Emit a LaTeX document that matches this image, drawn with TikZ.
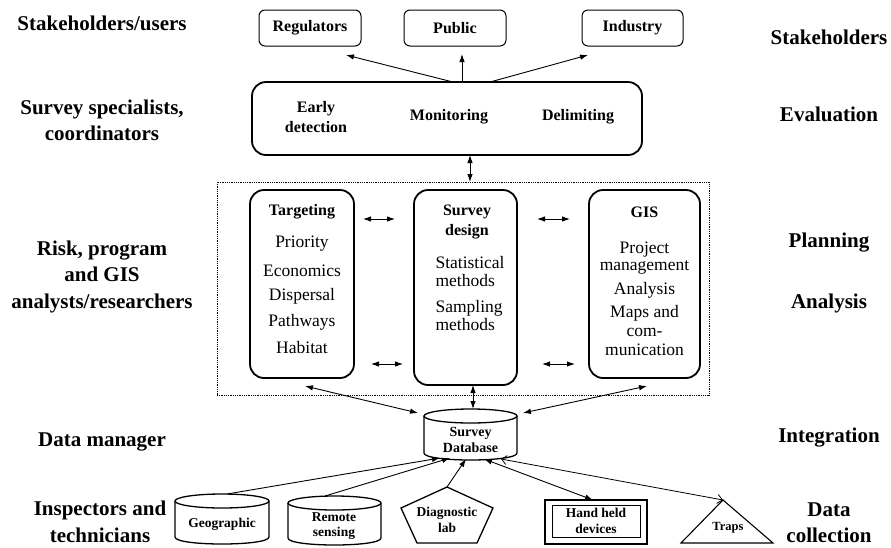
\documentclass[tikz,border=0pt]{standalone}
\usepackage{fontspec}
\setmainfont{Liberation Serif}
\usetikzlibrary{arrows.meta}
\newcommand{\cylshape}[4]{%
  \draw[shp] (#1,#3+7) -- (#1,#4-7) .. controls (#1,#4+2.33) and (#2,#4+2.33) .. (#2,#4-7) -- (#2,#3+7);
  \draw[shp] ({(#1+#2)/2},{#3+7}) ellipse [x radius={(#2-#1)/2}, y radius=7];}
\begin{document}
\begin{tikzpicture}[x=1pt,y=-1pt,
 lbl/.style={font=\fontsize{21}{26.5}\selectfont\bfseries, align=center},
 boxlbl/.style={font=\fontsize{16}{19.5}\selectfont\bfseries, align=center},
 itm/.style={font=\fontsize{17.5}{18}\selectfont, align=center},
 smalltxt/.style={font=\fontsize{13.5}{15.5}\selectfont\bfseries, align=center},
 topbox/.style={draw, line width=1pt, rounded corners=6pt, inner sep=0pt},
 bigbox/.style={draw, line width=1.8pt, rounded corners=14pt, inner sep=0pt},
 arr/.style={line width=0.9pt, -{Latex[length=8pt,width=5.5pt]}},
 darr/.style={line width=0.9pt, {Latex[length=8pt,width=5.5pt]}-{Latex[length=8pt,width=5.5pt]}},
 oarr/.style={line width=0.8pt, {Straight Barb[length=5pt,width=9pt]}-{Straight Barb[length=5pt,width=9pt]}},
 shp/.style={draw, line width=1.3pt}
]
\useasboundingbox[fill=white] (0,0) rectangle (891,547);

% side labels
\node[lbl] (l1) at (102,23) {Stakeholders/users};
\node[lbl] (l2) at (102,120.5) {Survey specialists,\\coordinators};
\node[lbl] (l3) at (102,276.5) {Risk, program\\and GIS\\analysts/researchers};
\node[lbl] (l4) at (102,442) {Data manager};
\node[lbl] (l5) at (100,522) {Inspectors and\\technicians};

\node[lbl] (r1) at (829,37) {Stakeholders};
\node[lbl] (r2) at (829,114) {Evaluation};
\node[lbl] (r3) at (829,243) {Planning};
\node[lbl] (r4) at (829,303) {Analysis};
\node[lbl] (r5) at (829,438) {Integration};
\node[lbl] (r6) at (829,522.5) {Data\\collection};

% stakeholders
\node[topbox, boxlbl, minimum width=102pt, minimum height=36pt] (reg) at (310,28) {Regulators};
\node[topbox, boxlbl, minimum width=102pt, minimum height=36pt] (pub) at (455,28) {Public};
\node[topbox, boxlbl, minimum width=101pt, minimum height=36pt] (ind) at (632.5,28) {Industry};

% evaluation
\node[bigbox, minimum width=390pt, minimum height=73pt] (eval) at (447,118.5) {};
\node[boxlbl] (early) at (316,117) {Early\\detection};
\node[boxlbl] (moni) at (449,117) {Monitoring};
\node[boxlbl] (deli) at (578,117) {Delimiting};

% planning area
\node[draw, densely dotted, line width=0.8pt, minimum width=492pt, minimum height=213pt, inner sep=0pt] (plan) at (463,288.5) {};
\node[bigbox, minimum width=104pt, minimum height=188pt] (targ) at (302,284) {};
\node[bigbox, minimum width=103pt, minimum height=195pt] (sdes) at (465.5,287.5) {};
\node[bigbox, minimum width=111pt, minimum height=188pt] (gis) at (644.5,284) {};

\node[boxlbl] (targT) at (302,212) {Targeting};
\node[itm] (t1) at (302,244) {Priority};
\node[itm] (t2) at (302,271) {Economics};
\node[itm] (t3) at (302,296) {Dispersal};
\node[itm] (t4) at (302,322) {Pathways};
\node[itm] (t5) at (302,348) {Habitat};

\node[boxlbl] (sdesT) at (467,222) {Survey\\design};
\node[itm, align=left, anchor=west] (s1) at (432,272) {Statistical\\methods};
\node[itm, align=left, anchor=west] (s2) at (432,315.5) {Sampling\\methods};

\node[boxlbl] (gisT) at (644.5,212) {GIS};
\node[itm, font=\fontsize{17.5}{17}\selectfont] (g1) at (644.5,258) {Project\\management};
\node[itm] (g2) at (644.5,290) {Analysis};
\node[itm, font=\fontsize{17.5}{19}\selectfont] (g3) at (644.5,330.5) {Maps and\\com-\\munication};

% database
\cylshape{424}{517}{409}{460}
\node[smalltxt, font=\fontsize{14}{15.5}\selectfont\bfseries] (db) at (470.5,440) {Survey\\Database};

% data collection
\cylshape{175}{269}{494}{544}
\node[smalltxt] (geo) at (222,524) {Geographic};
\cylshape{288}{381}{496}{545}
\node[smalltxt] (rem) at (334,526) {Remote\\sensing};
\draw[shp] (447,487) -- (493,508) -- (477,543) -- (417,543) -- (401,508) -- cycle;
\node[smalltxt] (diag) at (447,520) {Diagnostic\\lab};
\draw[shp] (545,500) rectangle (647,544);
\draw[line width=1pt] (552,505) rectangle (640,537);
\node[smalltxt] (hh) at (596,521) {Hand held\\devices};
\draw[line width=1.1pt] (723,500) -- (773,543) -- (681,543) -- cycle;
\node[smalltxt, font=\fontsize{12.5}{14}\selectfont\bfseries] (traps) at (728,528) {Traps};

% coordinates
\coordinate (eR) at (453,82); \coordinate (tR) at (346,55);
\coordinate (eP) at (462,82); \coordinate (tP) at (462,54);
\coordinate (eI) at (490,82); \coordinate (tI) at (588,55);
\coordinate (eB) at (470,155); \coordinate (pT) at (470,182);
\coordinate (a1) at (363,219); \coordinate (a2) at (395,219);
\coordinate (a3) at (371,364); \coordinate (a4) at (403,364);
\coordinate (a5) at (537,219); \coordinate (a6) at (570,219);
\coordinate (a7) at (542,364); \coordinate (a8) at (575,364);
\coordinate (tB) at (305,386); \coordinate (dL) at (418,413);
\coordinate (gB) at (647,386); \coordinate (dR) at (523,413);
\coordinate (sB) at (473,385); \coordinate (dT) at (473,409);
\coordinate (geoT) at (227,494); \coordinate (d1) at (440,458);
\coordinate (remT) at (325,496); \coordinate (d2) at (450,458);
\coordinate (diaT) at (447,487); \coordinate (d3) at (466,459);
\coordinate (d4) at (484,459); \coordinate (hhT) at (593,500);
\coordinate (d5) at (501,459); \coordinate (trT) at (723,500);

% connectors
\draw[arr] (eR) -- (tR);
\draw[arr] (eP) -- (tP);
\draw[arr] (eI) -- (tI);
\draw[darr] (eB) -- (pT);
\draw[darr] (a1) -- (a2);
\draw[darr] (a3) -- (a4);
\draw[darr] (a5) -- (a6);
\draw[darr] (a7) -- (a8);
\draw[darr] (tB) -- (dL);
\draw[darr] (gB) -- (dR);
\draw[darr] (sB) -- (dT);
\draw[arr] (geoT) -- (d1);
\draw[arr] (remT) -- (d2);
\draw[arr] (diaT) -- (d3);
\draw[darr] (d4) -- (hhT);
\draw[oarr] (d5) -- (trT);
\end{tikzpicture}
\end{document}
